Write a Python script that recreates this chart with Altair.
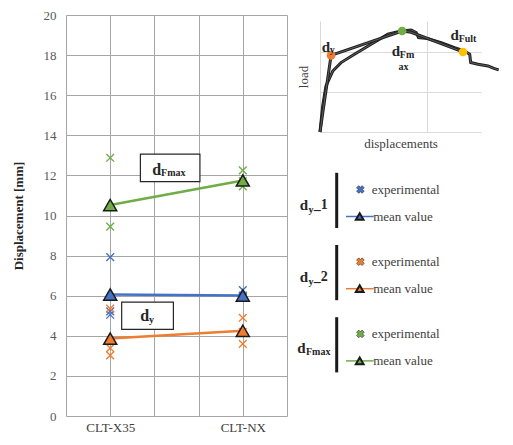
import altair as alt
import pandas as pd

SERIF = "Liberation Serif"

# ---------------- main chart data ----------------
categories = ["CLT-X35", "CLT-NX"]
category_pos = [1, 4]
series_names = ["dy_1", "dy_2", "dFmax"]
series_colors = ["#4472C4", "#ED7D31", "#70AD47"]

dy1_x35 = [7.92, 5.22, 5.05]
dy1_nx = [6.28, 6.00, 5.90]
dy2_x35 = [5.35, 3.38, 3.02]
dy2_nx = [4.90, 4.20, 3.60]
dfmax_x35 = [12.88, 9.45]
dfmax_nx = [12.25, 11.70, 11.45]

mean_dy1 = [6.06, 6.01]
mean_dy2 = [3.86, 4.25]
mean_dfmax = [10.52, 11.75]

y_ticks = [0, 2, 4, 6, 8, 10, 12, 14, 16, 18, 20]
x_grid = [0, 1, 2, 3, 4, 5]

# ---------------- inset data ----------------
curve_x = [0.0, 0.025, 0.056, 0.119, 0.196, 0.321, 0.476, 0.632, 0.756, 0.849,
           0.896, 0.918, 1.005, 1.129, 1.254, 1.348, 1.395, 1.404, 1.472, 1.565,
           1.620, 1.665]
curve_y = [0.0, 0.323, 0.572, 0.758, 0.863, 0.966, 1.090, 1.215, 1.256, 1.268,
           1.236, 1.174, 1.161, 1.111, 1.049, 1.007, 0.966, 0.863, 0.842, 0.821,
           0.790, 0.772]
ideal_x = [0.0, 0.103, 0.765, 0.850, 1.332]
ideal_y = [0.0, 0.952, 1.256, 1.240, 0.995]
key_names = ["dy", "dFmax", "dFult"]
key_x = [0.103, 0.765, 1.332]
key_y = [0.952, 1.256, 0.995]
key_colors = ["#ED7D31", "#70AD47", "#FFC000"]

# ---------------- build tables ----------------
exp_rows = []
for name, a, b in [("dy_1", dy1_x35, dy1_nx), ("dy_2", dy2_x35, dy2_nx),
                   ("dFmax", dfmax_x35, dfmax_nx)]:
    for v in a:
        exp_rows.append({"pos": category_pos[0], "value": v, "series": name})
    for v in b:
        exp_rows.append({"pos": category_pos[1], "value": v, "series": name})
exp_df = pd.DataFrame(exp_rows)

mean_rows = []
for name, m in [("dy_1", mean_dy1), ("dy_2", mean_dy2), ("dFmax", mean_dfmax)]:
    for p, v in zip(category_pos, m):
        mean_rows.append({"pos": p, "value": v, "series": name})
mean_df = pd.DataFrame(mean_rows)

color_scale = alt.Scale(domain=series_names, range=series_colors)
xs = alt.Scale(domain=[0, 5], nice=False, zero=False)
ys = alt.Scale(domain=[0, 20], nice=False)

label_expr = ("datum.value == %d ? '%s' : datum.value == %d ? '%s' : ''"
              % (category_pos[0], categories[0], category_pos[1], categories[1]))

x_axis = alt.Axis(values=x_grid, labelExpr=label_expr, grid=True, gridColor="#a6a6a6",
                  ticks=False, domain=False, title=None, labelFont=SERIF, labelFontSize=13,
                  labelColor="#404040", labelPadding=5, labelOverlap=False)
y_axis = alt.Axis(values=y_ticks, grid=True, gridColor="#a6a6a6", ticks=False, domain=False,
                  title="Displacement [mm]", titleFont=SERIF, titleFontSize=13,
                  titleFontWeight="bold", titleColor="#262626", labelFont=SERIF,
                  labelFontSize=13, labelColor="#595959", labelPadding=10, titlePadding=18)

X = alt.X("pos:Q", scale=xs, axis=x_axis)
Y = alt.Y("value:Q", scale=ys, axis=y_axis)
xpath = "M-1,-1L1,1M1,-1L-1,1"

exp_layer = alt.Chart(exp_df).mark_point(shape=xpath, filled=False, size=60, strokeWidth=1.4,
                                         opacity=1).encode(
    x=X, y=Y, color=alt.Color("series:N", scale=color_scale, legend=None))
line_layer = alt.Chart(mean_df).mark_line(strokeWidth=2.5).encode(
    x=X, y=Y, color=alt.Color("series:N", scale=color_scale, legend=None),
    detail="series:N")
tri_layer = alt.Chart(mean_df).mark_point(shape="triangle-up", filled=True, size=170,
                                          stroke="#1a1a1a", strokeWidth=1.5, opacity=1).encode(
    x=X, y=Y, fill=alt.Fill("series:N", scale=color_scale, legend=None))

# annotation boxes (data coordinates)
box_df = pd.DataFrame({"x1": [1.683, 1.260], "x2": [3.030, 2.430],
                       "y1": [11.69, 4.32], "y2": [13.06, 5.68]})
box_layer = alt.Chart(box_df).mark_rect(fill="white", stroke="#262626", strokeWidth=1.2).encode(
    x=alt.X("x1:Q", scale=xs, axis=x_axis), x2="x2:Q",
    y=alt.Y("y1:Q", scale=ys, axis=y_axis), y2="y2:Q")
big_df = pd.DataFrame({"t": ["d", "d"], "x": [2.05, 1.78], "y": [12.25, 4.98]})
small_df = pd.DataFrame({"t": ["Fmax", "y"], "x": [2.15, 1.88], "y": [12.12, 4.78]})
big_txt = alt.Chart(big_df).mark_text(font=SERIF, fontSize=16, fontWeight="bold",
                                      color="#262626", align="center", baseline="middle").encode(
    x=alt.X("x:Q", scale=xs, axis=x_axis), y=alt.Y("y:Q", scale=ys, axis=y_axis), text="t:N")
small_txt = alt.Chart(small_df).mark_text(font=SERIF, fontSize=10, fontWeight="bold",
                                          color="#262626", align="left", baseline="middle").encode(
    x=alt.X("x:Q", scale=xs, axis=x_axis), y=alt.Y("y:Q", scale=ys, axis=y_axis), text="t:N")

main = alt.layer(exp_layer, line_layer, tri_layer, box_layer, big_txt, small_txt).properties(
    width=221, height=401)

# ---------------- inset ----------------
ixs = alt.Scale(domain=[0, 1.5], nice=False, zero=False)
iys = alt.Scale(domain=[0, 1.38], nice=False, zero=False)
ix_axis = alt.Axis(values=[0, 1], grid=True, gridColor="#d9d9d9", labels=False, ticks=False,
                   domain=False, title="displacements", titleFont=SERIF, titleFontSize=13,
                   titleFontWeight="normal", titleColor="#404040", titlePadding=5, labelPadding=0)
iy_axis = alt.Axis(values=[0, 0.5, 1.0], grid=True, gridColor="#d9d9d9", labels=False,
                   ticks=False, domain=False, title="load", titleFont=SERIF, titleFontSize=13,
                   titleFontWeight="normal", titleColor="#404040", titlePadding=10, labelPadding=0)

curve_df = pd.DataFrame({"x": curve_x, "y": curve_y, "i": range(len(curve_x))})
ideal_df = pd.DataFrame({"x": ideal_x, "y": ideal_y, "i": range(len(ideal_x))})
key_df = pd.DataFrame({"x": key_x, "y": key_y, "k": key_names, "c": key_colors})

IX = alt.X("x:Q", scale=ixs, axis=ix_axis)
IY = alt.Y("y:Q", scale=iys, axis=iy_axis)


def dbl(df):
    outer = alt.Chart(df).mark_line(color="#1f1f1f", strokeWidth=3).encode(x=IX, y=IY, order="i:Q")
    inner = alt.Chart(df).mark_line(color="#7a7a7a", strokeWidth=0.7).encode(x=IX, y=IY, order="i:Q")
    return [outer, inner]


keys = alt.Chart(key_df).mark_circle(size=75, opacity=1).encode(
    x=IX, y=IY, color=alt.Color("c:N", scale=None))
ibig = pd.DataFrame({"t": ["d", "d", "d"], "x": [0.056, 0.707, 1.2545], "y": [1.059, 1.003, 1.202]})
ismall = pd.DataFrame({"t": ["y", "Fm", "ax", "Fult"], "x": [0.0905, 0.744, 0.732, 1.292],
                       "y": [1.016, 0.956, 0.813, 1.161]})
ibig_txt = alt.Chart(ibig).mark_text(font=SERIF, fontSize=15, fontWeight="bold", color="#262626",
                                     align="center", baseline="middle").encode(x=IX, y=IY, text="t:N")
ismall_txt = alt.Chart(ismall).mark_text(font=SERIF, fontSize=10, fontWeight="bold",
                                         color="#262626", align="left",
                                         baseline="middle").encode(x=IX, y=IY, text="t:N")

inset = alt.layer(*(dbl(curve_df) + dbl(ideal_df)), keys, ibig_txt, ismall_txt).properties(
    width=161, height=111)

# ---------------- custom legend (positions relative to the legend origin) ----------------
legend_exp_label = "experimental"
legend_mean_label = "mean value"
GSTEP = 72.2
EY0 = 57.5
leg_rows = []
for g, name in enumerate(series_names):
    ey = EY0 + GSTEP * g
    leg_rows.append({"series": name, "ey": ey, "my": ey + 27, "bt": ey - 16.7, "bb": ey + 38.5})
leg_df = pd.DataFrame(leg_rows)
LW, LH = 150, 245
lxs = alt.Scale(domain=[0, LW], range=[0, LW], nice=False, zero=False)
lys = alt.Scale(domain=[0, LH], range=[0, LH], nice=False, zero=False)


def LX(f):
    return alt.X(f, scale=lxs, axis=None)


def LY(f):
    return alt.Y(f, scale=lys, axis=None)


lbase = alt.Chart(leg_df)
bars = lbase.mark_rule(color="#1a1a1a", strokeWidth=3).encode(
    x=alt.value(16.7), y=LY("bt:Q"), y2="bb:Q")
emark = lbase.mark_point(shape="cross", angle=45, filled=True, size=60, stroke="#333333",
                         strokeWidth=0.6, opacity=1).encode(
    x=alt.value(40.4), y=LY("ey:Q"), fill=alt.Fill("series:N", scale=color_scale, legend=None))
etext = lbase.mark_text(text=legend_exp_label, font=SERIF, fontSize=13, color="#404040",
                        align="left", baseline="middle").encode(x=alt.value(51.7), y=LY("ey:Q"))
mline = lbase.mark_rule(strokeWidth=1.5).encode(
    x=alt.value(26), x2=alt.value(53.7), y=LY("my:Q"),
    color=alt.Color("series:N", scale=color_scale, legend=None))
mtri = lbase.mark_point(shape="triangle-up", filled=True, size=60, stroke="#1a1a1a",
                        strokeWidth=2, opacity=1).encode(
    x=alt.value(39.7), y=LY("my:Q"), fill=alt.Fill("series:N", scale=color_scale, legend=None))
mtext = lbase.mark_text(text=legend_mean_label, font=SERIF, fontSize=13, color="#404040",
                        align="left", baseline="middle").encode(x=alt.value(53.2), y=LY("my:Q"))

gl_big_c = pd.DataFrame({"t": ["d", "d", "d"], "x": [-16.0, -16.0, -18.6],
                         "y": [EY0 + 15, EY0 + 15 + GSTEP, EY0 + 14 + 2 * GSTEP]})
gl_big_l = pd.DataFrame({"t": ["_1", "_2"], "x": [-6.3, -6.3],
                         "y": [EY0 + 15, EY0 + 15 + GSTEP]})
gl_small = pd.DataFrame({"t": ["y", "y", "Fmax"], "x": [-11.6, -11.6, -14.0],
                         "y": [EY0 + 20, EY0 + 20 + GSTEP, EY0 + 18.5 + 2 * GSTEP]})
glb_c = alt.Chart(gl_big_c).mark_text(
    font=SERIF, fontSize=15, fontWeight="bold", color="#262626", align="center",
    baseline="middle").encode(x=LX("x:Q"), y=LY("y:Q"), text="t:N")
glb_l = alt.Chart(gl_big_l).mark_text(
    font=SERIF, fontSize=14, fontWeight="bold", color="#262626", align="left",
    baseline="middle").encode(x=LX("x:Q"), y=LY("y:Q"), text="t:N")
gls = alt.Chart(gl_small).mark_text(font=SERIF, fontSize=10, fontWeight="bold", color="#262626",
                                    align="left", baseline="middle").encode(
    x=LX("x:Q"), y=LY("y:Q"), text="t:N")

legend = alt.layer(bars, emark, etext, mline, mtri, mtext, glb_c, glb_l, gls).properties(
    width=LW, height=LH)

spacer = alt.Chart(pd.DataFrame({"v": [0]})).mark_point(opacity=0).encode(
    x=alt.value(0), y=alt.value(0)).properties(width=10, height=6)

right = alt.vconcat(spacer, inset, legend, spacing=0, bounds="flush")
chart = alt.hconcat(main, right, spacing=33, bounds="flush").properties(
    padding={"left": 4, "top": 1, "right": 0, "bottom": 0}, background="white"
).configure_view(stroke=None)

chart.save("out.html", embed_options={"renderer": "svg", "actions": False})
